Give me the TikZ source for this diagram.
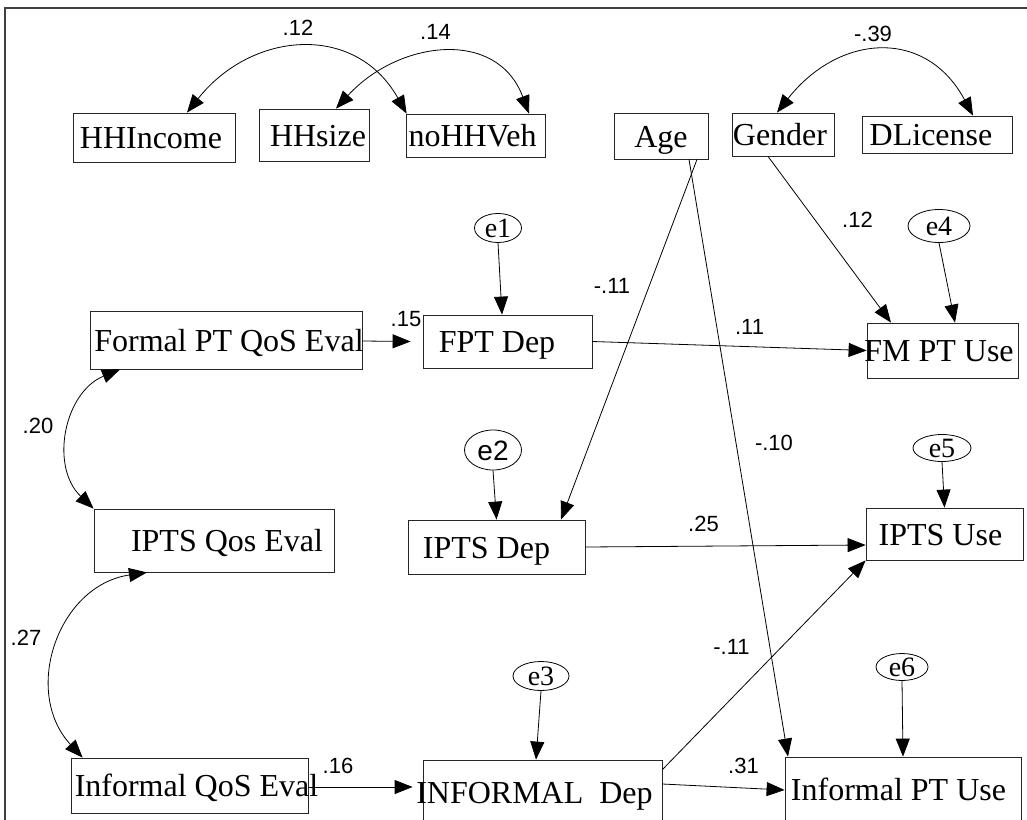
\documentclass[tikz,border=0pt]{standalone}
\usepackage{fontspec}
\setmainfont{Liberation Serif}
\newfontfamily\arialfont{Liberation Sans}
\usetikzlibrary{arrows.meta,shapes.geometric}
\newcommand\btext[2]{\raisebox{-11.3pt}[0pt][0pt]{\makebox[0pt]{\hspace*{#1}#2}}}
\newcommand\etext[1]{\raisebox{-9.5pt}[0pt][0pt]{\makebox[0pt]{#1}}}
\begin{document}
\begin{tikzpicture}[x=1pt,y=-1pt,
  box/.style={draw=black!85, line width=0.8pt, rectangle, inner sep=0pt, font=\fontsize{32}{36}\selectfont},
  err/.style={draw=black, line width=0.8pt, ellipse, inner sep=0pt, font=\fontsize{28}{32}\selectfont},
  coef/.style={inner sep=0pt, font=\arialfont\fontsize{22}{26}\selectfont},
  reg/.style={draw=black, line width=0.8pt, -{Triangle[length=18pt,width=14pt]}},
  cov/.style={draw=black, line width=0.8pt, {Triangle[length=18pt,width=14pt]}-{Triangle[length=18pt,width=14pt]}}
]
\useasboundingbox (0,0) rectangle (1027,819);
\clip (0,0) rectangle (1027,819);
\draw[line width=2pt, black!75] (5,840) -- (5,7.5) -- (1040,7.5);

% observed variables
\node[box, minimum width=162pt, minimum height=49pt] (hhinc) at (154,137.5) {\btext{-6pt}{HHIncome}};
\node[box, minimum width=110pt, minimum height=52pt] (hhsize) at (314,135) {\btext{8pt}{HHsize}};
\node[box, minimum width=139pt, minimum height=43pt] (noveh) at (475.5,135.5) {\btext{-6pt}{noHHVeh}};
\node[box, minimum width=94pt, minimum height=46pt] (age) at (661,136) {\btext{0pt}{Age}};
\node[box, minimum width=102pt, minimum height=43pt] (gender) at (783,134.5) {\btext{-6pt}{Gender}};
\node[box, minimum width=150pt, minimum height=37pt] (dlic) at (937,134.5) {\btext{-12pt}{DLicense}};
\node[box, minimum width=272pt, minimum height=58pt] (formal) at (226,340) {\btext{6pt}{Formal PT QoS Eval}};
\node[box, minimum width=169pt, minimum height=53pt] (fptdep) at (507.5,341.5) {\btext{-21pt}{FPT Dep}};
\node[box, minimum width=151pt, minimum height=55pt] (fmuse) at (942.5,350.5) {\btext{-7pt}{FM PT Use}};
\node[box, minimum width=240pt, minimum height=63pt] (iptsq) at (214,540.5) {\btext{26pt}{IPTS Qos Eval}};
\node[box, minimum width=177pt, minimum height=54pt] (iptsdep) at (496.5,547) {\btext{-20pt}{IPTS Dep}};
\node[box, minimum width=157pt, minimum height=52pt] (iptsuse) at (944.5,534) {\btext{-8pt}{IPTS Use}};
\node[box, minimum width=237pt, minimum height=55pt] (infq) at (189.5,785.5) {\btext{14pt}{Informal QoS Eval}};
\node[box, minimum width=239pt, minimum height=64pt] (infdep) at (542.5,792) {\btext{-16pt}{INFORMAL~~Dep}};
\node[box, minimum width=236pt, minimum height=64pt] (infuse) at (903,789) {\btext{-9pt}{Informal PT Use}};

% error terms
\node[err, minimum width=47pt, minimum height=29pt] (e1) at (498,228) {\etext{e1}};
\node[err, minimum width=57pt, minimum height=40pt] (e2) at (493,450) {\raisebox{-10pt}[0pt][0pt]{\makebox[0pt]{\arialfont e2}}};
\node[err, minimum width=56pt, minimum height=29pt] (e3) at (541,676) {\etext{e3}};
\node[err, minimum width=62pt, minimum height=33pt] (e4) at (939,226) {\etext{e4}};
\node[err, minimum width=58pt, minimum height=27pt] (e5) at (942,448) {\etext{e5}};
\node[err, minimum width=52pt, minimum height=27pt] (e6) at (902,667) {\etext{e6}};

% covariances
\draw[cov] ([xshift=33pt]hhinc.north) .. controls +(65,-82) and +(-51,-91) .. ([xshift=1pt]noveh.north west);
\draw[cov] ([xshift=22pt]hhsize.north) .. controls +(62,-68) and +(-32,-86) .. ([xshift=53.5pt]noveh.north);
\draw[cov] ([xshift=-6pt]gender.north) .. controls +(62,-79) and +(-47,-88) .. ([xshift=36pt]dlic.north);
\draw[cov] ([xshift=-106pt]formal.south) .. controls +(-56,23) and +(-44,-42) .. (iptsq.north west);
\draw[cov] ([xshift=-67pt]iptsq.south) .. controls +(-89,13) and +(-61,-66) .. ([xshift=12pt]infq.north west);

% regressions
\draw[reg] ([xshift=36pt]age.south) -- ([xshift=64.5pt]iptsdep.north);
\draw[reg] ([xshift=28pt]age.south) -- ([xshift=-115pt]infuse.north);
\draw[reg] ([xshift=-15pt]gender.south) -- ([xshift=-51.5pt]fmuse.north);
\draw[reg] (e4.south) -- ([xshift=12.5pt]fmuse.north);
\draw[reg] (e1.south) -- ([xshift=-5.5pt]fptdep.north);
\draw[reg] ([yshift=-1pt]formal.east) -- ([xshift=-12pt]fptdep.west);
\draw[reg] (fptdep.east) -- (fmuse.west);
\draw[reg] (e2.south) -- (iptsdep.north);
\draw[reg] (iptsdep.east) -- ([yshift=-11pt]iptsuse.west);
\draw[reg] (e5.south) -- (iptsuse.north);
\draw[reg] ([yshift=-10pt]infdep.north east) -- (iptsuse.south west);
\draw[reg] ([yshift=8pt]infdep.east) -- ([yshift=-1pt]infuse.west);
\draw[reg] (e3.south) -- ([xshift=-6.5pt]infdep.north);
\draw[reg] (e6.south) -- (infuse.north);
\draw[reg] ([yshift=-1.5pt]infq.east) -- ([xshift=-10pt,yshift=5pt]infdep.west);

% coefficients
\node[coef] (l12a) at (298,28) {.12};
\node[coef] (l14) at (435.5,31.5) {.14};
\node[coef] (l39) at (873,34) {-.39};
\node[coef] (l20) at (38,425.5) {.20};
\node[coef] (l27) at (26,637.5) {.27};
\node[coef] (l15) at (406,319.5) {.15};
\node[coef] (l11a) at (612,285.5) {-.11};
\node[coef] (l11b) at (749.5,326.5) {.11};
\node[coef] (l12b) at (857.5,220) {.12};
\node[coef] (l10) at (774,442.5) {-.10};
\node[coef] (l25) at (703.5,523.5) {.25};
\node[coef] (l11c) at (731.5,647) {-.11};
\node[coef] (l31) at (743.5,766) {.31};
\node[coef] (l16) at (338,766) {.16};
\end{tikzpicture}
\end{document}
